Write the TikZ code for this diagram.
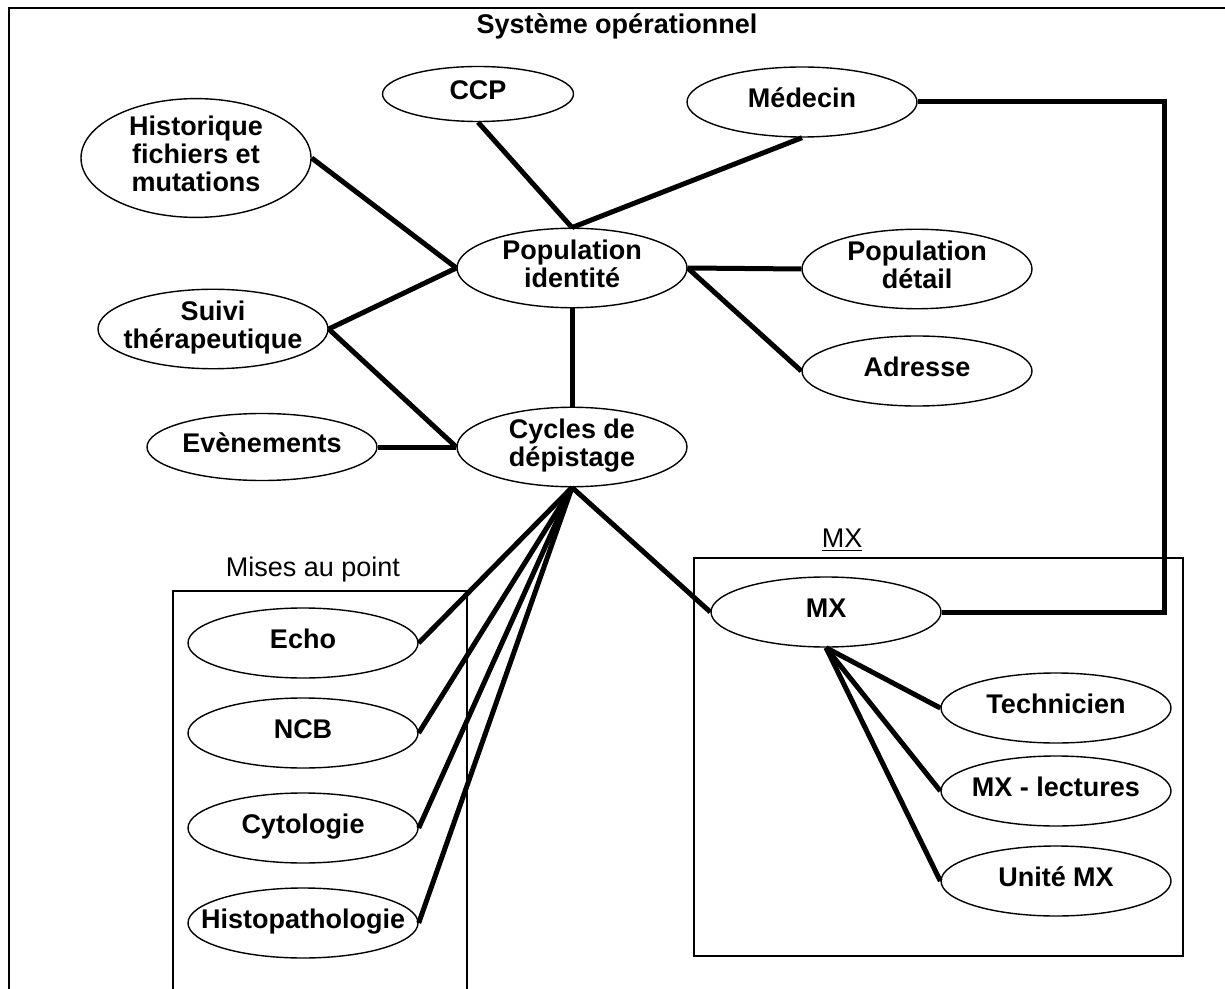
\documentclass[tikz,border=0pt]{standalone}
\usepackage{fontspec}
\setmainfont{Liberation Sans}
\usetikzlibrary{shapes.geometric}
\newcommand{\elab}[1]{\makebox[0pt]{\begin{tabular}{@{}c@{}}#1\end{tabular}}}
\begin{document}
\begin{tikzpicture}[x=0.5pt,y=-0.5pt,
	entity/.style={ellipse,draw,line width=0.7pt,fill=white,minimum width=115pt,minimum height=35pt,inner sep=0pt,font=\fontsize{13.5}{14}\selectfont\bfseries},
	link/.style={line width=2.5pt},
	group/.style={draw,line width=0.75pt},
	grouplbl/.style={inner sep=0pt,font=\fontsize{13.5}{14}\selectfont}]
	\useasboundingbox (0,0) rectangle (1225,989);
	\clip (0,0) rectangle (1225,989);
	% cadres
	\draw[group] (9,8) rectangle (1240,1005);
	\draw[group] (173,591) rectangle (467,1005);
	\draw[group] (694,558) rectangle (1183,956);
	\node[grouplbl,font=\fontsize{13.5}{14}\selectfont\bfseries] (titre) at (617,26) {Système opérationnel};
	\node[grouplbl] (lmap) at (313,570) {Mises au point};
	\node[grouplbl] (lmx) at (842,540) {\underline{MX}};
	% liens
	\coordinate (coude) at (1164,102);
	\draw[link] (coude) -- (coude |- 0,612);
	% entites
	\node[entity,minimum height=58.5pt] (hist) at (196,158) {\elab{Historique\\fichiers et\\mutations}};
	\node[entity,minimum width=95.5pt,minimum height=27.5pt] (ccp) at (478,94) {\elab{CCP}};
	\node[entity] (med) at (802,102) {\elab{Médecin}};
	\node[entity] (pid) at (572,268) {\elab{Population\\identité}};
	\node[entity] (pdet) at (917,269) {\elab{Population\\détail}};
	\node[entity] (adr) at (917,371) {\elab{Adresse}};
	\node[entity] (suivi) at (213,329) {\elab{Suivi\\thérapeutique}};
	\node[entity,minimum height=33.5pt] (evt) at (262,447) {\elab{Evènements}};
	\node[entity] (cyc) at (572,447) {\elab{Cycles de\\dépistage}};
	\node[entity] (echo) at (303,643) {\elab{Echo}};
	\node[entity] (ncb) at (303,733) {\elab{NCB}};
	\node[entity] (cyto) at (303,828) {\elab{Cytologie}};
	\node[entity] (histo) at (303,923) {\elab{Histopathologie}};
	\node[entity] (mx) at (826,612) {\elab{MX}};
	\node[entity] (tech) at (1056,708) {\elab{Technicien}};
	\node[entity] (lect) at (1056,791) {\elab{MX - lectures}};
	\node[entity] (unite) at (1056,881) {\elab{Unité MX}};
	\draw[link] (hist.east) -- (pid.west);
	\draw[link] (ccp.south) -- (pid.north);
	\draw[link] (med.south) -- (pid.north);
	\draw[link] (suivi.east) -- (pid.west);
	\draw[link] (suivi.east) -- (cyc.west);
	\draw[link] (evt.east) -- (cyc.west);
	\draw[link] (pid.south) -- (cyc.north);
	\draw[link] (pid.east) -- (pdet.west);
	\draw[link] (pid.east) -- (adr.west);
	\draw[link] (med.east) -- (coude) |- (mx.east);
	\draw[link] (cyc.south) -- (mx.west);
	\foreach \n in {echo,ncb,cyto,histo}
		\draw[link] (cyc.south) -- (\n.east);
	\foreach \n in {tech,lect,unite}
		\draw[link] (mx.south) -- (\n.west);
\end{tikzpicture}
\end{document}
